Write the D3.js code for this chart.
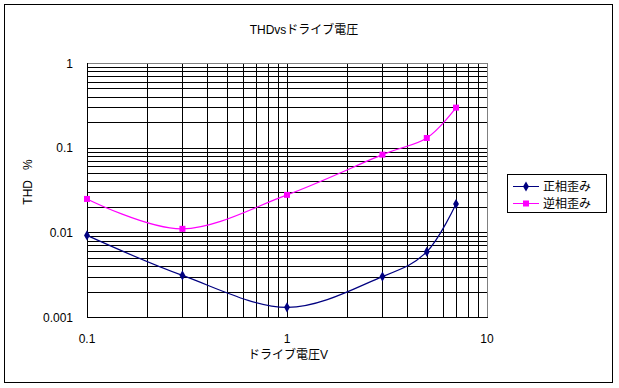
<!DOCTYPE html>
<html>
<head>
<meta charset="utf-8">
<script src="https://cdn.jsdelivr.net/npm/d3@7"></script>
<style>
  body { margin: 0; background: #fff; }
  svg { display: block; }
  text { font-family: "Liberation Sans", "Noto Sans CJK JP", sans-serif; font-size: 12px; fill: #000; }
</style>
</head>
<body>
<div id="container"></div>
<script>
// data
var voltages = [0.1, 0.3, 1, 3, 5, 7];
var seriesNames = ["正相歪み", "逆相歪み"];
var positivePhase = [0.0092, 0.0031, 0.0013, 0.0030, 0.0059, 0.0216];
var negativePhase = [0.0248, 0.0110, 0.0277, 0.0827, 0.130, 0.297];
var xTickLabels = [0.1, 1, 10];
var yTickLabels = [0.001, 0.01, 0.1, 1];

var w = 619, h = 388;
var svg = d3.select("div#container").append("svg")
  .attr("width", w).attr("height", h);

// outer chart border
svg.append("rect")
  .attr("x", 4.5).attr("y", 4.5)
  .attr("width", 608).attr("height", 378)
  .attr("fill", "#fff").attr("stroke", "#000").attr("stroke-width", 1);

var x = d3.scaleLog().domain([0.1, 10]).range([87, 487]);
var y = d3.scaleLog().domain([0.001, 1]).range([317, 63]);

var px = function(v) { return Math.round(x(v)) + 0.5; };
var py = function(v) { return Math.round(y(v)) + 0.5; };

//grid lines, vertical and horizontal, one per log tick
var grid = svg.append("g").attr("shape-rendering", "crispEdges");
grid.selectAll("line.vx")
  .data(x.ticks())
  .enter().append("line")
  .attr("class", "vx")
  .attr("x1", px).attr("x2", px)
  .attr("y1", y.range()[1]).attr("y2", y.range()[0])
  .attr("stroke", "#000");
grid.selectAll("line.hy")
  .data(y.ticks())
  .enter().append("line")
  .attr("class", "hy")
  .attr("y1", py).attr("y2", py)
  .attr("x1", x.range()[0]).attr("x2", x.range()[1])
  .attr("stroke", "#000");

// plot area border: gray top/right, black axes left/bottom
grid.append("line")
  .attr("x1", px(0.1)).attr("x2", px(10)).attr("y1", py(1)).attr("y2", py(1))
  .attr("stroke", "#808080");
grid.append("line")
  .attr("x1", px(10)).attr("x2", px(10)).attr("y1", py(1)).attr("y2", py(0.001))
  .attr("stroke", "#808080");
grid.append("line")
  .attr("x1", px(0.1)).attr("x2", px(0.1)).attr("y1", py(1)).attr("y2", py(0.001))
  .attr("stroke", "#000");
grid.append("line")
  .attr("x1", px(0.1)).attr("x2", px(10)).attr("y1", py(0.001)).attr("y2", py(0.001))
  .attr("stroke", "#000");

// axis labels
svg.append("g").selectAll("text")
  .data(yTickLabels)
  .enter().append("text")
  .attr("x", 73)
  .attr("y", function(d) { return y(d) + 4.5; })
  .attr("text-anchor", "end")
  .text(function(d) { return String(d); });

svg.append("g").selectAll("text")
  .data(xTickLabels)
  .enter().append("text")
  .attr("x", function(d) { return x(d); })
  .attr("y", 343)
  .attr("text-anchor", "middle")
  .text(function(d) { return String(d); });

svg.append("text")
  .attr("x", 304).attr("y", 34)
  .attr("text-anchor", "middle")
  .text("THDvsドライブ電圧");

svg.append("text")
  .attr("x", 288).attr("y", 359)
  .attr("text-anchor", "middle")
  .text("ドライブ電圧V");

svg.append("text")
  .attr("transform", "translate(32,182) rotate(-90)")
  .attr("text-anchor", "middle")
  .style("white-space", "pre")
  .text("THD   %");

// series
var series = [
  { name: seriesNames[0], values: positivePhase, color: "#000080", shape: d3.symbolDiamond, size: 30 },
  { name: seriesNames[1], values: negativePhase, color: "#ff00ff", shape: d3.symbolSquare, size: 36 }
];

var line = d3.line()
  .x(function(d) { return x(d[0]); })
  .y(function(d) { return y(d[1]); })
  .curve(d3.curveCatmullRom.alpha(0));

series.forEach(function(s) {
  var pts = voltages.map(function(v, i) { return [v, s.values[i]]; });
  svg.append("path")
    .attr("d", line(pts))
    .attr("fill", "none")
    .attr("stroke", s.color)
    .attr("stroke-width", 1.2);
  svg.append("g").selectAll("path")
    .data(pts)
    .enter().append("path")
    .attr("transform", function(d) { return "translate(" + x(d[0]) + "," + y(d[1]) + ")"; })
    .attr("d", d3.symbol().type(s.shape).size(s.size))
    .attr("fill", s.color);
});

// legend
var legend = svg.append("g");
legend.append("rect")
  .attr("x", 507.5).attr("y", 174.5)
  .attr("width", 99).attr("height", 38)
  .attr("fill", "#fff").attr("stroke", "#000");
series.forEach(function(s, i) {
  var ly = 186 + i * 17;
  legend.append("line")
    .attr("x1", 513).attr("x2", 539)
    .attr("y1", ly + 0.5).attr("y2", ly + 0.5)
    .attr("stroke", s.color);
  legend.append("path")
    .attr("transform", "translate(526," + (ly + 0.5) + ")")
    .attr("d", d3.symbol().type(s.shape).size(s.size))
    .attr("fill", s.color);
  legend.append("text")
    .attr("x", 543).attr("y", ly + 5)
    .text(s.name);
});
</script>
</body>
</html>
